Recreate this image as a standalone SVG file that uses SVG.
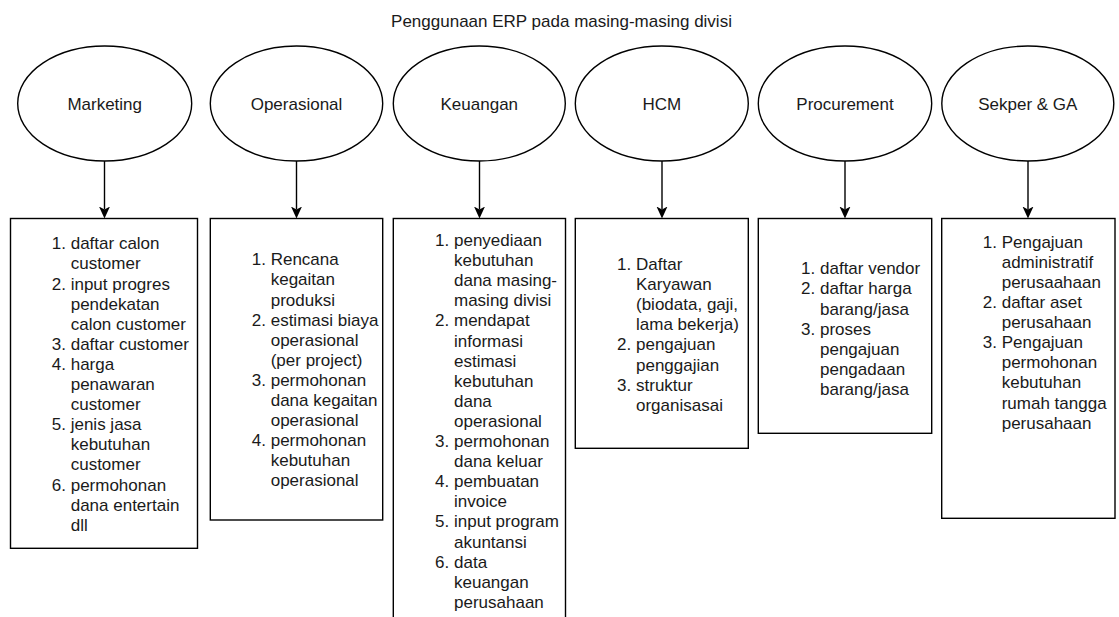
<svg xmlns="http://www.w3.org/2000/svg" width="1119" height="617" viewBox="0 0 1119 617">
<defs>
<style>
.bg{fill:#ffffff}
.shape{fill:#ffffff;stroke:#000000;stroke-width:1.4}
.conn{fill:none;stroke:#000000;stroke-width:1.4}
text{font-family:"Liberation Sans",Arial,Helvetica,sans-serif;font-size:17px;fill:#1a1a1a}
.c{text-anchor:middle}
.m{text-anchor:end}
</style>
<marker id="arrow" markerUnits="userSpaceOnUse" viewBox="0 0 12 12" markerWidth="12" markerHeight="12" refX="3" refY="6" orient="auto">
<path d="M0,0.5 L12,6 L0,11.5 L3,6 Z" fill="#000000"/>
</marker>
</defs>
<rect class="bg" x="0" y="0" width="1119" height="617"/>
<g id="title"><text class="c" x="561.5" y="27">Penggunaan ERP pada masing-masing divisi</text></g>

<g id="connectors">
<line class="conn" x1="104.5" y1="161" x2="104.5" y2="209.5" marker-end="url(#arrow)"/>
<line class="conn" x1="296.5" y1="161" x2="296.5" y2="209.5" marker-end="url(#arrow)"/>
<line class="conn" x1="479.5" y1="161" x2="479.5" y2="209.5" marker-end="url(#arrow)"/>
<line class="conn" x1="662" y1="161" x2="662" y2="209.5" marker-end="url(#arrow)"/>
<line class="conn" x1="845" y1="161" x2="845" y2="209.5" marker-end="url(#arrow)"/>
<line class="conn" x1="1028" y1="161" x2="1028" y2="209.5" marker-end="url(#arrow)"/>
</g>

<g id="marketing">
<ellipse class="shape" cx="104.7" cy="103.5" rx="87" ry="57.5"/>
<text class="c" x="104.7" y="110">Marketing</text>
</g>
<g id="operasional">
<ellipse class="shape" cx="296.5" cy="103.5" rx="86.2" ry="57.5"/>
<text class="c" x="296.5" y="110">Operasional</text>
</g>
<g id="keuangan">
<ellipse class="shape" cx="479.3" cy="103.5" rx="86" ry="57.5"/>
<text class="c" x="479.3" y="110">Keuangan</text>
</g>
<g id="hcm">
<ellipse class="shape" cx="661.8" cy="103.5" rx="86.5" ry="57.5"/>
<text class="c" x="661.8" y="110">HCM</text>
</g>
<g id="procurement">
<ellipse class="shape" cx="845" cy="103.5" rx="86.7" ry="57.5"/>
<text class="c" x="845" y="110">Procurement</text>
</g>
<g id="sekper">
<ellipse class="shape" cx="1027.8" cy="103.5" rx="86" ry="57.5"/>
<text class="c" x="1027.8" y="110">Sekper &amp; GA</text>
</g>

<g id="marketing-list">
<rect class="shape" x="10.5" y="218.5" width="187" height="329.8"/>
<text class="m" x="66" y="249.3">1.</text>
<text class="m" x="66" y="289.5">2.</text>
<text class="m" x="66" y="349.8">3.</text>
<text class="m" x="66" y="369.9">4.</text>
<text class="m" x="66" y="430.2">5.</text>
<text class="m" x="66" y="490.5">6.</text>
<text x="70.7" y="249.3"><tspan x="70.7" y="249.3">daftar calon</tspan><tspan x="70.7" y="269.4">customer</tspan><tspan x="70.7" y="289.5">input progres</tspan><tspan x="70.7" y="309.6">pendekatan</tspan><tspan x="70.7" y="329.7">calon customer</tspan><tspan x="70.7" y="349.8">daftar customer</tspan><tspan x="70.7" y="369.9">harga</tspan><tspan x="70.7" y="390">penawaran</tspan><tspan x="70.7" y="410.1">customer</tspan><tspan x="70.7" y="430.2">jenis jasa</tspan><tspan x="70.7" y="450.3">kebutuhan</tspan><tspan x="70.7" y="470.4">customer</tspan><tspan x="70.7" y="490.5">permohonan</tspan><tspan x="70.7" y="510.6">dana entertain</tspan><tspan x="70.7" y="530.7">dll</tspan></text>
</g>

<g id="operasional-list">
<rect class="shape" x="210.3" y="218.5" width="172.4" height="301.5"/>
<text class="m" x="266" y="265.3">1.</text>
<text class="m" x="266" y="325.6">2.</text>
<text class="m" x="266" y="385.9">3.</text>
<text class="m" x="266" y="446.2">4.</text>
<text x="270.7" y="265.3"><tspan x="270.7" y="265.3">Rencana</tspan><tspan x="270.7" y="285.4">kegaitan</tspan><tspan x="270.7" y="305.5">produksi</tspan><tspan x="270.7" y="325.6">estimasi biaya</tspan><tspan x="270.7" y="345.7">operasional</tspan><tspan x="270.7" y="365.8">(per project)</tspan><tspan x="270.7" y="385.9">permohonan</tspan><tspan x="270.7" y="406">dana kegaitan</tspan><tspan x="270.7" y="426.1">operasional</tspan><tspan x="270.7" y="446.2">permohonan</tspan><tspan x="270.7" y="466.3">kebutuhan</tspan><tspan x="270.7" y="486.4">operasional</tspan></text>
</g>

<g id="keuangan-list">
<rect class="shape" x="393.3" y="218.5" width="172.2" height="404"/>
<text class="m" x="449.3" y="246">1.</text>
<text class="m" x="449.3" y="326.4">2.</text>
<text class="m" x="449.3" y="447">3.</text>
<text class="m" x="449.3" y="487.2">4.</text>
<text class="m" x="449.3" y="527.4">5.</text>
<text class="m" x="449.3" y="567.6">6.</text>
<text x="454" y="246"><tspan x="454" y="246">penyediaan</tspan><tspan x="454" y="266.1">kebutuhan</tspan><tspan x="454" y="286.2">dana masing-</tspan><tspan x="454" y="306.3">masing divisi</tspan><tspan x="454" y="326.4">mendapat</tspan><tspan x="454" y="346.5">informasi</tspan><tspan x="454" y="366.6">estimasi</tspan><tspan x="454" y="386.7">kebutuhan</tspan><tspan x="454" y="406.8">dana</tspan><tspan x="454" y="426.9">operasional</tspan><tspan x="454" y="447">permohonan</tspan><tspan x="454" y="467.1">dana keluar</tspan><tspan x="454" y="487.2">pembuatan</tspan><tspan x="454" y="507.3">invoice</tspan><tspan x="454" y="527.4">input program</tspan><tspan x="454" y="547.5">akuntansi</tspan><tspan x="454" y="567.6">data</tspan><tspan x="454" y="587.7">keuangan</tspan><tspan x="454" y="607.8">perusahaan</tspan></text>
</g>

<g id="hcm-list">
<rect class="shape" x="575.3" y="218.5" width="173" height="229.8"/>
<text class="m" x="631.3" y="270">1.</text>
<text class="m" x="631.3" y="350.4">2.</text>
<text class="m" x="631.3" y="390.6">3.</text>
<text x="636" y="270"><tspan x="636" y="270">Daftar</tspan><tspan x="636" y="290.1">Karyawan</tspan><tspan x="636" y="310.2">(biodata, gaji,</tspan><tspan x="636" y="330.3">lama bekerja)</tspan><tspan x="636" y="350.4">pengajuan</tspan><tspan x="636" y="370.5">penggajian</tspan><tspan x="636" y="390.6">struktur</tspan><tspan x="636" y="410.7">organisasai</tspan></text>
</g>

<g id="procurement-list">
<rect class="shape" x="758.3" y="218.5" width="173.4" height="214.8"/>
<text class="m" x="815.3" y="274.3">1.</text>
<text class="m" x="815.3" y="294.4">2.</text>
<text class="m" x="815.3" y="334.6">3.</text>
<text x="820" y="274.3"><tspan x="820" y="274.3">daftar vendor</tspan><tspan x="820" y="294.4">daftar harga</tspan><tspan x="820" y="314.5">barang/jasa</tspan><tspan x="820" y="334.6">proses</tspan><tspan x="820" y="354.7">pengajuan</tspan><tspan x="820" y="374.8">pengadaan</tspan><tspan x="820" y="394.9">barang/jasa</tspan></text>
</g>

<g id="sekper-list">
<rect class="shape" x="941.7" y="218.5" width="173.3" height="299.8"/>
<text class="m" x="997" y="247.7">1.</text>
<text class="m" x="997" y="308">2.</text>
<text class="m" x="997" y="348.2">3.</text>
<text x="1001.7" y="247.7"><tspan x="1001.7" y="247.7">Pengajuan</tspan><tspan x="1001.7" y="267.8">administratif</tspan><tspan x="1001.7" y="287.9">perusaahaan</tspan><tspan x="1001.7" y="308">daftar aset</tspan><tspan x="1001.7" y="328.1">perusahaan</tspan><tspan x="1001.7" y="348.2">Pengajuan</tspan><tspan x="1001.7" y="368.3">permohonan</tspan><tspan x="1001.7" y="388.4">kebutuhan</tspan><tspan x="1001.7" y="408.5">rumah tangga</tspan><tspan x="1001.7" y="428.6">perusahaan</tspan></text>
</g>
</svg>
